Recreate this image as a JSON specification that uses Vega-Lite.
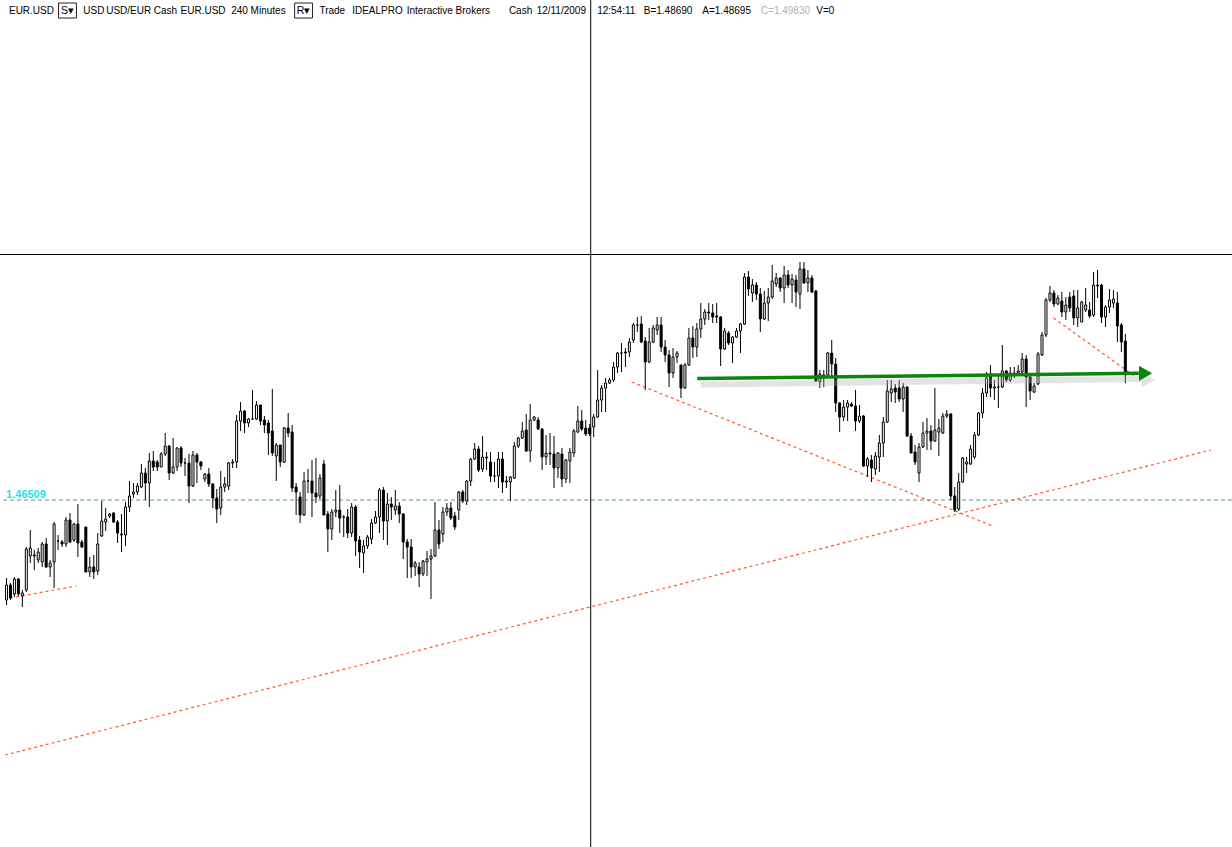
{
"$schema": "https://vega.github.io/schema/vega-lite/v6.json",
"width": 1232, "height": 847, "padding": 0,
"autosize": {"type": "none"},
"background": "white",
"config": {"view": {"stroke": null}},
"datasets": {
"candles": [
{"x":0,"o":1.4451,"h":1.4495,"l":1.4441,"c":1.4481},
{"x":1,"o":1.4481,"h":1.4485,"l":1.4451,"c":1.4455},
{"x":2,"o":1.4463,"h":1.4497,"l":1.4457,"c":1.4493},
{"x":3,"o":1.4493,"h":1.4495,"l":1.4459,"c":1.4463},
{"x":4,"o":1.4459,"h":1.4471,"l":1.4437,"c":1.4465},
{"x":5,"o":1.4471,"h":1.4557,"l":1.4467,"c":1.4553},
{"x":6,"o":1.4539,"h":1.4591,"l":1.4525,"c":1.4555},
{"x":7,"o":1.4541,"h":1.4551,"l":1.4511,"c":1.4539},
{"x":8,"o":1.4531,"h":1.4555,"l":1.4525,"c":1.4547},
{"x":9,"o":1.4527,"h":1.4567,"l":1.4517,"c":1.4563},
{"x":10,"o":1.4563,"h":1.4575,"l":1.4515,"c":1.4517},
{"x":11,"o":1.4517,"h":1.4531,"l":1.4497,"c":1.4525},
{"x":12,"o":1.4527,"h":1.4607,"l":1.4475,"c":1.4603},
{"x":13,"o":1.4569,"h":1.4581,"l":1.4551,"c":1.4569},
{"x":14,"o":1.4567,"h":1.4571,"l":1.4557,"c":1.4563},
{"x":15,"o":1.4563,"h":1.4617,"l":1.4557,"c":1.4611},
{"x":16,"o":1.4611,"h":1.4625,"l":1.4565,"c":1.4567},
{"x":17,"o":1.4571,"h":1.4605,"l":1.4567,"c":1.4603},
{"x":18,"o":1.4603,"h":1.4643,"l":1.4537,"c":1.4565},
{"x":19,"o":1.4567,"h":1.4571,"l":1.4555,"c":1.4557},
{"x":20,"o":1.4597,"h":1.4597,"l":1.4507,"c":1.4507},
{"x":21,"o":1.4507,"h":1.4537,"l":1.4497,"c":1.4517},
{"x":22,"o":1.4517,"h":1.4541,"l":1.4493,"c":1.4507},
{"x":23,"o":1.4509,"h":1.4585,"l":1.4501,"c":1.4563},
{"x":24,"o":1.4579,"h":1.4649,"l":1.4577,"c":1.4609},
{"x":25,"o":1.4607,"h":1.4635,"l":1.4589,"c":1.4613},
{"x":26,"o":1.4619,"h":1.4625,"l":1.4615,"c":1.4623},
{"x":27,"o":1.4625,"h":1.4627,"l":1.4605,"c":1.4607},
{"x":28,"o":1.4607,"h":1.4611,"l":1.4565,"c":1.4585},
{"x":29,"o":1.4583,"h":1.4623,"l":1.4547,"c":1.4581},
{"x":30,"o":1.4581,"h":1.4647,"l":1.4559,"c":1.4637},
{"x":31,"o":1.4637,"h":1.4689,"l":1.4627,"c":1.4659},
{"x":32,"o":1.4663,"h":1.4685,"l":1.4655,"c":1.4667},
{"x":33,"o":1.4667,"h":1.4685,"l":1.4661,"c":1.4679},
{"x":34,"o":1.4677,"h":1.4723,"l":1.4675,"c":1.4705},
{"x":35,"o":1.4705,"h":1.4715,"l":1.4651,"c":1.4685},
{"x":36,"o":1.4685,"h":1.4745,"l":1.4637,"c":1.4729},
{"x":37,"o":1.4729,"h":1.4749,"l":1.4709,"c":1.4717},
{"x":38,"o":1.4727,"h":1.4731,"l":1.4709,"c":1.4717},
{"x":39,"o":1.4717,"h":1.4747,"l":1.4717,"c":1.4743},
{"x":40,"o":1.4743,"h":1.4785,"l":1.4739,"c":1.4759},
{"x":41,"o":1.4759,"h":1.4761,"l":1.4691,"c":1.4705},
{"x":42,"o":1.4705,"h":1.4775,"l":1.4703,"c":1.4717},
{"x":43,"o":1.4717,"h":1.4757,"l":1.4709,"c":1.4755},
{"x":44,"o":1.4755,"h":1.4759,"l":1.4717,"c":1.4725},
{"x":45,"o":1.4725,"h":1.4735,"l":1.4699,"c":1.4725},
{"x":46,"o":1.4725,"h":1.4743,"l":1.4645,"c":1.4679},
{"x":47,"o":1.4679,"h":1.4749,"l":1.4677,"c":1.4741},
{"x":48,"o":1.4741,"h":1.4745,"l":1.4685,"c":1.4727},
{"x":49,"o":1.4727,"h":1.4729,"l":1.4711,"c":1.4719},
{"x":50,"o":1.4693,"h":1.4705,"l":1.4687,"c":1.4703},
{"x":51,"o":1.4703,"h":1.4715,"l":1.4677,"c":1.4683},
{"x":52,"o":1.4683,"h":1.4685,"l":1.4635,"c":1.4655},
{"x":53,"o":1.4655,"h":1.4673,"l":1.4605,"c":1.4633},
{"x":54,"o":1.4635,"h":1.4709,"l":1.4621,"c":1.4677},
{"x":55,"o":1.4677,"h":1.4697,"l":1.4667,"c":1.4683},
{"x":56,"o":1.4679,"h":1.4727,"l":1.4671,"c":1.4725},
{"x":57,"o":1.4725,"h":1.4733,"l":1.4715,"c":1.4727},
{"x":58,"o":1.4727,"h":1.4821,"l":1.4715,"c":1.4809},
{"x":59,"o":1.4809,"h":1.4847,"l":1.4789,"c":1.4829},
{"x":60,"o":1.4829,"h":1.4831,"l":1.4785,"c":1.4805},
{"x":61,"o":1.4805,"h":1.4815,"l":1.4797,"c":1.4813},
{"x":62,"o":1.4813,"h":1.4871,"l":1.4811,"c":1.4813},
{"x":63,"o":1.4813,"h":1.4849,"l":1.4811,"c":1.4841},
{"x":64,"o":1.4841,"h":1.4841,"l":1.4801,"c":1.4809},
{"x":65,"o":1.4811,"h":1.4819,"l":1.4785,"c":1.4801},
{"x":66,"o":1.4805,"h":1.4811,"l":1.4741,"c":1.4785},
{"x":67,"o":1.4789,"h":1.4873,"l":1.4739,"c":1.4745},
{"x":68,"o":1.4739,"h":1.4765,"l":1.4689,"c":1.4761},
{"x":69,"o":1.4761,"h":1.4761,"l":1.4717,"c":1.4727},
{"x":70,"o":1.4727,"h":1.4797,"l":1.4725,"c":1.4795},
{"x":71,"o":1.4795,"h":1.4825,"l":1.4777,"c":1.4785},
{"x":72,"o":1.4787,"h":1.4801,"l":1.4667,"c":1.4675},
{"x":73,"o":1.4677,"h":1.4685,"l":1.4621,"c":1.4667},
{"x":74,"o":1.4657,"h":1.4667,"l":1.4605,"c":1.4621},
{"x":75,"o":1.4621,"h":1.4707,"l":1.4619,"c":1.4689},
{"x":76,"o":1.4689,"h":1.4713,"l":1.4665,"c":1.4689},
{"x":77,"o":1.4689,"h":1.4731,"l":1.4617,"c":1.4665},
{"x":78,"o":1.4665,"h":1.4735,"l":1.4645,"c":1.4657},
{"x":79,"o":1.4659,"h":1.4703,"l":1.4653,"c":1.4695},
{"x":80,"o":1.4723,"h":1.4731,"l":1.4621,"c":1.4621},
{"x":81,"o":1.4623,"h":1.4629,"l":1.4547,"c":1.4593},
{"x":82,"o":1.4593,"h":1.4633,"l":1.4571,"c":1.4627},
{"x":83,"o":1.4627,"h":1.4671,"l":1.4617,"c":1.4631},
{"x":84,"o":1.4631,"h":1.4681,"l":1.4585,"c":1.4615},
{"x":85,"o":1.4617,"h":1.4621,"l":1.4577,"c":1.4617},
{"x":86,"o":1.4617,"h":1.4633,"l":1.4575,"c":1.4585},
{"x":87,"o":1.4585,"h":1.4645,"l":1.4577,"c":1.4637},
{"x":88,"o":1.4637,"h":1.4641,"l":1.4539,"c":1.4569},
{"x":89,"o":1.4571,"h":1.4579,"l":1.4515,"c":1.4547},
{"x":90,"o":1.4545,"h":1.4571,"l":1.4505,"c":1.4559},
{"x":91,"o":1.4559,"h":1.4581,"l":1.4553,"c":1.4577},
{"x":92,"o":1.4573,"h":1.4613,"l":1.4563,"c":1.4605},
{"x":93,"o":1.4605,"h":1.4629,"l":1.4603,"c":1.4617},
{"x":94,"o":1.4617,"h":1.4675,"l":1.4585,"c":1.4671},
{"x":95,"o":1.4671,"h":1.4677,"l":1.4571,"c":1.4609},
{"x":96,"o":1.4609,"h":1.4665,"l":1.4561,"c":1.4643},
{"x":97,"o":1.4643,"h":1.4657,"l":1.4611,"c":1.4637},
{"x":98,"o":1.4631,"h":1.4671,"l":1.4621,"c":1.4639},
{"x":99,"o":1.4639,"h":1.4647,"l":1.4605,"c":1.4623},
{"x":100,"o":1.4623,"h":1.4625,"l":1.4533,"c":1.4567},
{"x":101,"o":1.4567,"h":1.4573,"l":1.4495,"c":1.4557},
{"x":102,"o":1.4557,"h":1.4573,"l":1.4495,"c":1.4517},
{"x":103,"o":1.4517,"h":1.4529,"l":1.4499,"c":1.4525},
{"x":104,"o":1.4517,"h":1.4527,"l":1.4477,"c":1.4503},
{"x":105,"o":1.4503,"h":1.4531,"l":1.4499,"c":1.4529},
{"x":106,"o":1.4527,"h":1.4549,"l":1.4499,"c":1.4533},
{"x":107,"o":1.4533,"h":1.4553,"l":1.4453,"c":1.4539},
{"x":108,"o":1.4539,"h":1.4647,"l":1.4537,"c":1.4591},
{"x":109,"o":1.4591,"h":1.4611,"l":1.4553,"c":1.4563},
{"x":110,"o":1.4583,"h":1.4637,"l":1.4567,"c":1.4627},
{"x":111,"o":1.4627,"h":1.4645,"l":1.4619,"c":1.4635},
{"x":112,"o":1.4635,"h":1.4647,"l":1.4611,"c":1.4615},
{"x":113,"o":1.4619,"h":1.4627,"l":1.4591,"c":1.4597},
{"x":114,"o":1.4631,"h":1.4669,"l":1.4611,"c":1.4667},
{"x":115,"o":1.4667,"h":1.4671,"l":1.4645,"c":1.4649},
{"x":116,"o":1.4649,"h":1.4691,"l":1.4641,"c":1.4689},
{"x":117,"o":1.4689,"h":1.4735,"l":1.4679,"c":1.4733},
{"x":118,"o":1.4733,"h":1.4765,"l":1.4731,"c":1.4753},
{"x":119,"o":1.4753,"h":1.4759,"l":1.4707,"c":1.4711},
{"x":120,"o":1.4713,"h":1.4779,"l":1.4707,"c":1.4737},
{"x":121,"o":1.4737,"h":1.4747,"l":1.4711,"c":1.4735},
{"x":122,"o":1.4727,"h":1.4747,"l":1.4687,"c":1.4699},
{"x":123,"o":1.4699,"h":1.4727,"l":1.4687,"c":1.4699},
{"x":124,"o":1.4699,"h":1.4747,"l":1.4675,"c":1.4733},
{"x":125,"o":1.4733,"h":1.4747,"l":1.4665,"c":1.4687},
{"x":126,"o":1.4689,"h":1.4699,"l":1.4675,"c":1.4687},
{"x":127,"o":1.4687,"h":1.4699,"l":1.4649,"c":1.4697},
{"x":128,"o":1.4695,"h":1.4767,"l":1.4693,"c":1.4759},
{"x":129,"o":1.4759,"h":1.4777,"l":1.4755,"c":1.4775},
{"x":130,"o":1.4775,"h":1.4807,"l":1.4773,"c":1.4789},
{"x":131,"o":1.4791,"h":1.4823,"l":1.4747,"c":1.4749},
{"x":132,"o":1.4749,"h":1.4843,"l":1.4727,"c":1.4811},
{"x":133,"o":1.4811,"h":1.4819,"l":1.4809,"c":1.4817},
{"x":134,"o":1.4811,"h":1.4817,"l":1.4791,"c":1.4793},
{"x":135,"o":1.4793,"h":1.4795,"l":1.4711,"c":1.4737},
{"x":136,"o":1.4737,"h":1.4781,"l":1.4721,"c":1.4745},
{"x":137,"o":1.4745,"h":1.4785,"l":1.4721,"c":1.4743},
{"x":138,"o":1.4743,"h":1.4779,"l":1.4675,"c":1.4715},
{"x":139,"o":1.4715,"h":1.4747,"l":1.4695,"c":1.4745},
{"x":140,"o":1.4743,"h":1.4755,"l":1.4677,"c":1.4693},
{"x":141,"o":1.4693,"h":1.4733,"l":1.4685,"c":1.4731},
{"x":142,"o":1.4729,"h":1.4755,"l":1.4685,"c":1.4747},
{"x":143,"o":1.4745,"h":1.4793,"l":1.4737,"c":1.4789},
{"x":144,"o":1.4787,"h":1.4839,"l":1.4785,"c":1.4809},
{"x":145,"o":1.4809,"h":1.4831,"l":1.4789,"c":1.4793},
{"x":146,"o":1.4795,"h":1.4811,"l":1.4779,"c":1.4783},
{"x":147,"o":1.4795,"h":1.4803,"l":1.4779,"c":1.4783},
{"x":148,"o":1.4797,"h":1.4823,"l":1.4777,"c":1.4817},
{"x":149,"o":1.4817,"h":1.4911,"l":1.4815,"c":1.4851},
{"x":150,"o":1.4851,"h":1.4881,"l":1.4827,"c":1.4875},
{"x":151,"o":1.4875,"h":1.4895,"l":1.4827,"c":1.4885},
{"x":152,"o":1.4885,"h":1.4895,"l":1.4883,"c":1.4891},
{"x":153,"o":1.4891,"h":1.4927,"l":1.4887,"c":1.4917},
{"x":154,"o":1.4917,"h":1.4947,"l":1.4905,"c":1.4945},
{"x":155,"o":1.4945,"h":1.4965,"l":1.4907,"c":1.4945},
{"x":156,"o":1.4947,"h":1.4955,"l":1.4917,"c":1.4945},
{"x":157,"o":1.4947,"h":1.4975,"l":1.4937,"c":1.4967},
{"x":158,"o":1.4971,"h":1.5005,"l":1.4965,"c":1.5001},
{"x":159,"o":1.5001,"h":1.5017,"l":1.4987,"c":1.5001},
{"x":160,"o":1.5003,"h":1.5019,"l":1.4965,"c":1.4967},
{"x":161,"o":1.4969,"h":1.4977,"l":1.4871,"c":1.4927},
{"x":162,"o":1.4927,"h":1.4995,"l":1.4925,"c":1.4967},
{"x":163,"o":1.4967,"h":1.5001,"l":1.4965,"c":1.4995},
{"x":164,"o":1.4991,"h":1.5017,"l":1.4981,"c":1.5001},
{"x":165,"o":1.5001,"h":1.5017,"l":1.4947,"c":1.4957},
{"x":166,"o":1.4957,"h":1.4971,"l":1.4927,"c":1.4941},
{"x":167,"o":1.4941,"h":1.4951,"l":1.4877,"c":1.4905},
{"x":168,"o":1.4905,"h":1.4955,"l":1.4895,"c":1.4937},
{"x":169,"o":1.4937,"h":1.4949,"l":1.4925,"c":1.4945},
{"x":170,"o":1.4921,"h":1.4921,"l":1.4855,"c":1.4875},
{"x":171,"o":1.4875,"h":1.4925,"l":1.4873,"c":1.4921},
{"x":172,"o":1.4921,"h":1.4995,"l":1.4919,"c":1.4975},
{"x":173,"o":1.4975,"h":1.4999,"l":1.4935,"c":1.4957},
{"x":174,"o":1.4957,"h":1.5005,"l":1.4937,"c":1.4993},
{"x":175,"o":1.4993,"h":1.5045,"l":1.4975,"c":1.5013},
{"x":176,"o":1.5013,"h":1.5033,"l":1.5001,"c":1.5027},
{"x":177,"o":1.5027,"h":1.5045,"l":1.5011,"c":1.5025},
{"x":178,"o":1.5025,"h":1.5043,"l":1.5005,"c":1.5017},
{"x":179,"o":1.5019,"h":1.5045,"l":1.5005,"c":1.5017},
{"x":180,"o":1.5017,"h":1.5019,"l":1.4919,"c":1.4953},
{"x":181,"o":1.4953,"h":1.4995,"l":1.4951,"c":1.4989},
{"x":182,"o":1.4985,"h":1.4989,"l":1.4961,"c":1.4965},
{"x":183,"o":1.4965,"h":1.4979,"l":1.4925,"c":1.4977},
{"x":184,"o":1.4977,"h":1.4995,"l":1.4975,"c":1.4989},
{"x":185,"o":1.4989,"h":1.5005,"l":1.4945,"c":1.5003},
{"x":186,"o":1.5003,"h":1.5105,"l":1.5001,"c":1.5097},
{"x":187,"o":1.5097,"h":1.5109,"l":1.5059,"c":1.5073},
{"x":188,"o":1.5065,"h":1.5093,"l":1.5047,"c":1.5081},
{"x":189,"o":1.5081,"h":1.5087,"l":1.5051,"c":1.5063},
{"x":190,"o":1.5063,"h":1.5075,"l":1.4987,"c":1.5013},
{"x":191,"o":1.5013,"h":1.5069,"l":1.5011,"c":1.5045},
{"x":192,"o":1.5045,"h":1.5075,"l":1.5009,"c":1.5057},
{"x":193,"o":1.5057,"h":1.5121,"l":1.5053,"c":1.5089},
{"x":194,"o":1.5083,"h":1.5105,"l":1.5077,"c":1.5095},
{"x":195,"o":1.5095,"h":1.5097,"l":1.5067,"c":1.5075},
{"x":196,"o":1.5075,"h":1.5119,"l":1.5045,"c":1.5101},
{"x":197,"o":1.5101,"h":1.5111,"l":1.5075,"c":1.5081},
{"x":198,"o":1.5081,"h":1.5103,"l":1.5045,"c":1.5093},
{"x":199,"o":1.5091,"h":1.5101,"l":1.5037,"c":1.5067},
{"x":200,"o":1.5063,"h":1.5127,"l":1.5033,"c":1.5113},
{"x":201,"o":1.5113,"h":1.5127,"l":1.5083,"c":1.5085},
{"x":202,"o":1.5085,"h":1.5111,"l":1.5067,"c":1.5095},
{"x":203,"o":1.5095,"h":1.5101,"l":1.5065,"c":1.5067},
{"x":204,"o":1.5069,"h":1.5071,"l":1.4887,"c":1.4889},
{"x":205,"o":1.4887,"h":1.4911,"l":1.4875,"c":1.4903},
{"x":206,"o":1.4901,"h":1.4911,"l":1.4877,"c":1.4895},
{"x":207,"o":1.4901,"h":1.4947,"l":1.4899,"c":1.4945},
{"x":208,"o":1.4945,"h":1.4971,"l":1.4895,"c":1.4923},
{"x":209,"o":1.4923,"h":1.4935,"l":1.4827,"c":1.4845},
{"x":210,"o":1.4845,"h":1.4847,"l":1.4787,"c":1.4817},
{"x":211,"o":1.4817,"h":1.4851,"l":1.4809,"c":1.4837},
{"x":212,"o":1.4837,"h":1.4851,"l":1.4809,"c":1.4845},
{"x":213,"o":1.4843,"h":1.4847,"l":1.4837,"c":1.4839},
{"x":214,"o":1.4839,"h":1.4871,"l":1.4789,"c":1.4809},
{"x":215,"o":1.4809,"h":1.4841,"l":1.4805,"c":1.4819},
{"x":216,"o":1.4819,"h":1.4821,"l":1.4717,"c":1.4719},
{"x":217,"o":1.4719,"h":1.4737,"l":1.4697,"c":1.4733},
{"x":218,"o":1.4731,"h":1.4741,"l":1.4687,"c":1.4715},
{"x":219,"o":1.4713,"h":1.4747,"l":1.4701,"c":1.4739},
{"x":220,"o":1.4737,"h":1.4781,"l":1.4707,"c":1.4765},
{"x":221,"o":1.4765,"h":1.4817,"l":1.4737,"c":1.4807},
{"x":222,"o":1.4807,"h":1.4891,"l":1.4805,"c":1.4869},
{"x":223,"o":1.4865,"h":1.4891,"l":1.4847,"c":1.4873},
{"x":224,"o":1.4875,"h":1.4883,"l":1.4845,"c":1.4867},
{"x":225,"o":1.4875,"h":1.4891,"l":1.4847,"c":1.4853},
{"x":226,"o":1.4853,"h":1.4885,"l":1.4827,"c":1.4877},
{"x":227,"o":1.4877,"h":1.4879,"l":1.4777,"c":1.4779},
{"x":228,"o":1.4779,"h":1.4785,"l":1.4745,"c":1.4745},
{"x":229,"o":1.4747,"h":1.4761,"l":1.4721,"c":1.4727},
{"x":230,"o":1.4705,"h":1.4765,"l":1.4687,"c":1.4757},
{"x":231,"o":1.4757,"h":1.4807,"l":1.4755,"c":1.4785},
{"x":232,"o":1.4785,"h":1.4815,"l":1.4751,"c":1.4789},
{"x":233,"o":1.4789,"h":1.4801,"l":1.4751,"c":1.4769},
{"x":234,"o":1.4769,"h":1.4875,"l":1.4767,"c":1.4791},
{"x":235,"o":1.4787,"h":1.4813,"l":1.4739,"c":1.4795},
{"x":236,"o":1.4785,"h":1.4825,"l":1.4783,"c":1.4819},
{"x":237,"o":1.4819,"h":1.4831,"l":1.4815,"c":1.4823},
{"x":238,"o":1.4823,"h":1.4825,"l":1.4651,"c":1.4659},
{"x":239,"o":1.4659,"h":1.4677,"l":1.4627,"c":1.4631},
{"x":240,"o":1.4633,"h":1.4705,"l":1.4629,"c":1.4687},
{"x":241,"o":1.4687,"h":1.4737,"l":1.4685,"c":1.4735},
{"x":242,"o":1.4723,"h":1.4737,"l":1.4705,"c":1.4727},
{"x":243,"o":1.4723,"h":1.4761,"l":1.4721,"c":1.4753},
{"x":244,"o":1.4737,"h":1.4787,"l":1.4733,"c":1.4781},
{"x":245,"o":1.4781,"h":1.4827,"l":1.4779,"c":1.4825},
{"x":246,"o":1.4825,"h":1.4875,"l":1.4815,"c":1.4865},
{"x":247,"o":1.4865,"h":1.4907,"l":1.4857,"c":1.4895},
{"x":248,"o":1.4903,"h":1.4921,"l":1.4857,"c":1.4875},
{"x":249,"o":1.4875,"h":1.4891,"l":1.4851,"c":1.4877},
{"x":250,"o":1.4877,"h":1.4901,"l":1.4835,"c":1.4877},
{"x":251,"o":1.4877,"h":1.4961,"l":1.4875,"c":1.4909},
{"x":252,"o":1.4909,"h":1.4911,"l":1.4887,"c":1.4891},
{"x":253,"o":1.4891,"h":1.4917,"l":1.4887,"c":1.4905},
{"x":254,"o":1.4905,"h":1.4917,"l":1.4895,"c":1.4901},
{"x":255,"o":1.4905,"h":1.4921,"l":1.4901,"c":1.4909},
{"x":256,"o":1.4907,"h":1.4945,"l":1.4905,"c":1.4933},
{"x":257,"o":1.4933,"h":1.4941,"l":1.4837,"c":1.4897},
{"x":258,"o":1.4897,"h":1.4905,"l":1.4851,"c":1.4869},
{"x":259,"o":1.4867,"h":1.4885,"l":1.4865,"c":1.4879},
{"x":260,"o":1.4883,"h":1.4947,"l":1.4881,"c":1.4943},
{"x":261,"o":1.4941,"h":1.4987,"l":1.4939,"c":1.4981},
{"x":262,"o":1.4981,"h":1.5055,"l":1.4977,"c":1.5051},
{"x":263,"o":1.5051,"h":1.5079,"l":1.5047,"c":1.5065},
{"x":264,"o":1.5065,"h":1.5071,"l":1.5037,"c":1.5043},
{"x":265,"o":1.5043,"h":1.5061,"l":1.5041,"c":1.5055},
{"x":266,"o":1.5049,"h":1.5067,"l":1.5017,"c":1.5027},
{"x":267,"o":1.5027,"h":1.5057,"l":1.5011,"c":1.5041},
{"x":268,"o":1.5057,"h":1.5067,"l":1.5027,"c":1.5035},
{"x":269,"o":1.5059,"h":1.5071,"l":1.5001,"c":1.5015},
{"x":270,"o":1.5015,"h":1.5071,"l":1.4997,"c":1.5035},
{"x":271,"o":1.5007,"h":1.5049,"l":1.5007,"c":1.5047},
{"x":272,"o":1.5031,"h":1.5075,"l":1.5027,"c":1.5041},
{"x":273,"o":1.5031,"h":1.5047,"l":1.5015,"c":1.5019},
{"x":274,"o":1.5021,"h":1.5107,"l":1.5017,"c":1.5081},
{"x":275,"o":1.5081,"h":1.5111,"l":1.5055,"c":1.5079},
{"x":276,"o":1.5081,"h":1.5083,"l":1.5005,"c":1.5017},
{"x":277,"o":1.5017,"h":1.5041,"l":1.4997,"c":1.5037},
{"x":278,"o":1.5037,"h":1.5073,"l":1.5025,"c":1.5051},
{"x":279,"o":1.5045,"h":1.5071,"l":1.5035,"c":1.5053},
{"x":280,"o":1.5045,"h":1.5067,"l":1.4967,"c":1.4999},
{"x":281,"o":1.5001,"h":1.5005,"l":1.4947,"c":1.4967},
{"x":282,"o":1.4969,"h":1.4983,"l":1.4885,"c":1.4905}
],
"trendlines": [
{"line":"a","x":157.6,"y":1.4887},{"line":"a","x":248.6,"y":1.4599},
{"line":"b","x":-0.375,"y":1.4141},{"line":"b","x":303.6,"y":1.4751},
{"line":"c","x":0.9,"y":1.4455},{"line":"c","x":17.6,"y":1.4479},
{"line":"d","x":263.9,"y":1.5015},{"line":"d","x":284.6,"y":1.4897}
],
"arrow": [{"x":174.1,"y":1.4894},{"x":285.4,"y":1.49046}],
"arrowShadow": [{"x":175,"y":1.4882},{"x":286,"y":1.4893}],
"header": [
{"x":0.625,"t":"EUR.USD","kind":"main"},
{"x":19.375,"t":"USD","kind":"main"},
{"x":25.125,"t":"USD/EUR","kind":"main"},
{"x":37.125,"t":"Cash","kind":"main"},
{"x":43.875,"t":"EUR.USD","kind":"main"},
{"x":56.625,"t":"240 Minutes","kind":"main"},
{"x":78.875,"t":"Trade","kind":"main"},
{"x":87.125,"t":"IDEALPRO","kind":"main"},
{"x":100.875,"t":"Interactive Brokers","kind":"main"},
{"x":126.625,"t":"Cash","kind":"main"},
{"x":133.625,"t":"12/11/2009","kind":"main"},
{"x":148.875,"t":"12:54:11","kind":"main"},
{"x":160.625,"t":"B=1.48690","kind":"main"},
{"x":175.375,"t":"A=1.48695","kind":"main"},
{"x":190.125,"t":"C=1.49830","kind":"dim"},
{"x":204.125,"t":"V=0","kind":"main"}
],
"boxes": [
{"x":13.125,"x2":17.625,"xc":15.375,"t":"S▾"},
{"x":72.625,"x2":77.125,"xc":74.875,"t":"R▾"}
]
},
"layer": [
{
"data": {"values": [{"y": 1.46509}]},
"mark": {"type": "rule", "color": "#5a9a88", "strokeWidth": 1, "strokeDash": [4, 3]},
"encoding": {"y": {"field": "y", "type": "quantitative", "scale": {"domain": [1.3957, 1.5651], "nice": false, "zero": false}, "axis": null}}
},
{
"data": {"name": "trendlines"},
"mark": {"type": "line", "color": "#ff5a28", "strokeWidth": 1.2, "strokeDash": [3, 3]},
"encoding": {
"x": {"field": "x", "type": "quantitative", "scale": {"domain": [-0.375, 307.625], "nice": false, "zero": false}, "axis": null},
"y": {"field": "y", "type": "quantitative", "scale": {"domain": [1.3957, 1.5651], "nice": false, "zero": false}, "axis": null},
"detail": {"field": "line"}
}
},
{
"data": {"values": [{"x": 147.25}]},
"mark": {"type": "rule", "color": "black", "strokeWidth": 1},
"encoding": {"x": {"field": "x", "type": "quantitative", "scale": {"domain": [-0.375, 307.625], "nice": false, "zero": false}, "axis": null}}
},
{
"data": {"values": [{"y": 1.5142}]},
"mark": {"type": "rule", "color": "black", "strokeWidth": 1},
"encoding": {"y": {"field": "y", "type": "quantitative", "scale": {"domain": [1.3957, 1.5651], "nice": false, "zero": false}, "axis": null}}
},
{
"data": {"name": "candles"},
"mark": {"type": "rule", "color": "black", "strokeWidth": 1},
"encoding": {
"x": {"field": "x", "type": "quantitative", "scale": {"domain": [-0.375, 307.625], "nice": false, "zero": false}, "axis": null},
"y": {"field": "h", "type": "quantitative", "scale": {"domain": [1.3957, 1.5651], "nice": false, "zero": false}, "axis": null},
"y2": {"field": "l"}
}
},
{
"data": {"name": "candles"},
"mark": {"type": "bar", "size": 2, "stroke": "black", "strokeWidth": 1},
"encoding": {
"x": {"field": "x", "type": "quantitative", "scale": {"domain": [-0.375, 307.625], "nice": false, "zero": false}, "axis": null},
"y": {"field": "o", "type": "quantitative", "scale": {"domain": [1.3957, 1.5651], "nice": false, "zero": false}, "axis": null},
"y2": {"field": "c"},
"fill": {"condition": {"test": "datum.c < datum.o", "value": "black"}, "value": "white"}
}
},
{
"data": {"name": "arrowShadow"},
"mark": {"type": "line", "color": "#b0b0b0", "strokeWidth": 6, "opacity": 0.35},
"encoding": {
"x": {"field": "x", "type": "quantitative", "scale": {"domain": [-0.375, 307.625], "nice": false, "zero": false}, "axis": null},
"y": {"field": "y", "type": "quantitative", "scale": {"domain": [1.3957, 1.5651], "nice": false, "zero": false}, "axis": null}
}
},
{
"data": {"name": "arrow"},
"mark": {"type": "line", "color": "#0a870a", "strokeWidth": 3.5},
"encoding": {
"x": {"field": "x", "type": "quantitative", "scale": {"domain": [-0.375, 307.625], "nice": false, "zero": false}, "axis": null},
"y": {"field": "y", "type": "quantitative", "scale": {"domain": [1.3957, 1.5651], "nice": false, "zero": false}, "axis": null}
}
},
{
"data": {"values": [{"x": 287.8, "y": 1.4891}]},
"mark": {"type": "point", "shape": "triangle-right", "filled": true, "color": "#b0b0b0", "opacity": 0.35, "size": 230},
"encoding": {
"x": {"field": "x", "type": "quantitative", "scale": {"domain": [-0.375, 307.625], "nice": false, "zero": false}, "axis": null},
"y": {"field": "y", "type": "quantitative", "scale": {"domain": [1.3957, 1.5651], "nice": false, "zero": false}, "axis": null}
}
},
{
"data": {"values": [{"x": 287.1, "y": 1.49044}]},
"mark": {"type": "point", "shape": "triangle-right", "filled": true, "color": "#0a870a", "opacity": 1, "size": 230},
"encoding": {
"x": {"field": "x", "type": "quantitative", "scale": {"domain": [-0.375, 307.625], "nice": false, "zero": false}, "axis": null},
"y": {"field": "y", "type": "quantitative", "scale": {"domain": [1.3957, 1.5651], "nice": false, "zero": false}, "axis": null}
}
},
{
"data": {"values": [{"x": -0.1, "y": 1.4655, "t": "1.46509"}]},
"mark": {"type": "text", "align": "left", "baseline": "alphabetic", "font": "Liberation Sans", "fontSize": 11, "fontWeight": "bold", "color": "#1fe0f0"},
"encoding": {
"x": {"field": "x", "type": "quantitative", "scale": {"domain": [-0.375, 307.625], "nice": false, "zero": false}, "axis": null},
"y": {"field": "y", "type": "quantitative", "scale": {"domain": [1.3957, 1.5651], "nice": false, "zero": false}, "axis": null},
"text": {"field": "t"}
}
},
{
"data": {"name": "boxes"},
"mark": {"type": "rect", "fill": "white", "stroke": "#222222", "strokeWidth": 1},
"encoding": {
"x": {"field": "x", "type": "quantitative", "scale": {"domain": [-0.375, 307.625], "nice": false, "zero": false}, "axis": null},
"x2": {"field": "x2"},
"y": {"datum": 1.5645, "type": "quantitative", "scale": {"domain": [1.3957, 1.5651], "nice": false, "zero": false}, "axis": null},
"y2": {"datum": 1.5615}
}
},
{
"data": {"name": "boxes"},
"mark": {"type": "text", "align": "center", "baseline": "middle", "font": "Liberation Sans", "fontSize": 10.5, "color": "black"},
"encoding": {
"x": {"field": "xc", "type": "quantitative", "scale": {"domain": [-0.375, 307.625], "nice": false, "zero": false}, "axis": null},
"y": {"datum": 1.5629, "type": "quantitative", "scale": {"domain": [1.3957, 1.5651], "nice": false, "zero": false}, "axis": null},
"text": {"field": "t"}
}
},
{
"data": {"name": "header"},
"mark": {"type": "text", "align": "left", "baseline": "middle", "font": "Liberation Sans", "fontSize": 10},
"encoding": {
"x": {"field": "x", "type": "quantitative", "scale": {"domain": [-0.375, 307.625], "nice": false, "zero": false}, "axis": null},
"y": {"datum": 1.5629, "type": "quantitative", "scale": {"domain": [1.3957, 1.5651], "nice": false, "zero": false}, "axis": null},
"text": {"field": "t"},
"color": {"field": "kind", "type": "nominal", "scale": {"domain": ["main", "dim"], "range": ["#000000", "#b0b0b0"]}, "legend": null}
}
}
]
}
